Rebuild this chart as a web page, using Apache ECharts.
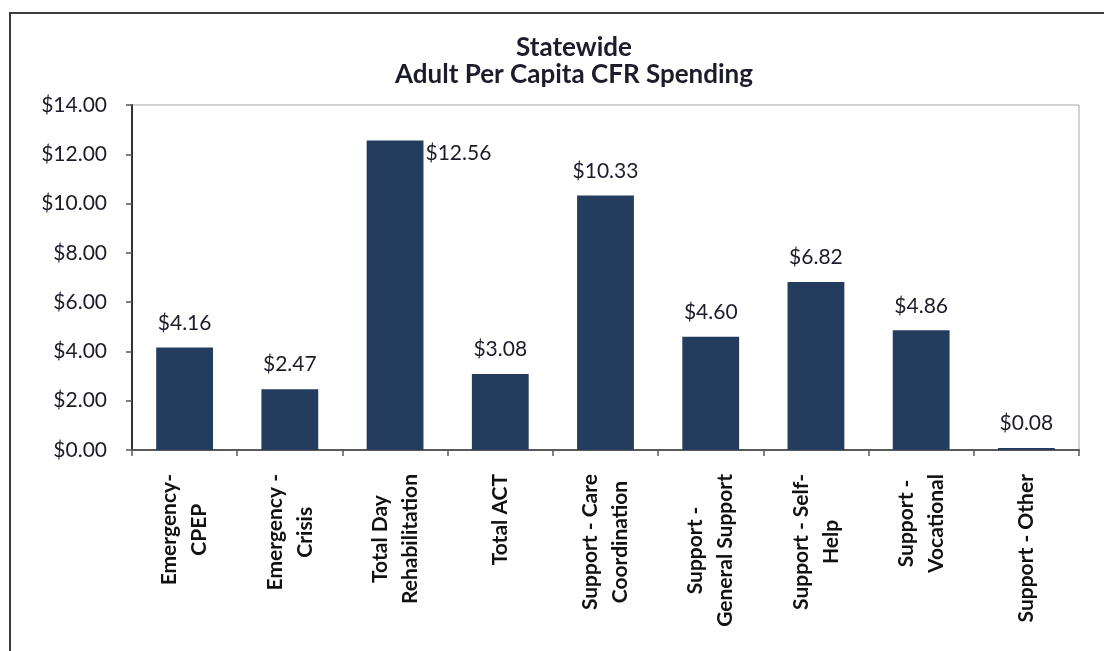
<!DOCTYPE html>
<html>
<head>
<meta charset="utf-8">
<script src="https://cdn.jsdelivr.net/npm/echarts@6/dist/echarts.min.js"></script>
<style>
  html, body { margin: 0; padding: 0; background: #ffffff; }
  #chart { width: 1104px; height: 651px; }
</style>
</head>
<body>
<div id="chart"></div>
<script>
const titleLines = ['Statewide', 'Adult Per Capita CFR Spending'];
const categories = [
  'Emergency-\nCPEP',
  'Emergency -\nCrisis',
  'Total Day\nRehabilitation',
  'Total ACT',
  'Support - Care\nCoordination',
  'Support -\nGeneral Support',
  'Support - Self-\nHelp',
  'Support -\nVocational',
  'Support - Other'
];
const spending = [4.16, 2.47, 12.56, 3.08, 10.33, 4.60, 6.82, 4.86, 0.08];
const yMin = 0, yMax = 14, yStep = 2;

const FONT = 'Lato, "Open Sans", sans-serif';
const TEXT = '#1c1c2a';
const BAR = '#243c5e';

const barData = spending.map((v, i) => {
  const d = { value: v };
  if (i === 2) {
    d.label = { position: ['100%', 0], offset: [2, 2], align: 'left', verticalAlign: 'top' };
  }
  return d;
});

const chart = echarts.init(document.getElementById('chart'), null, { renderer: 'canvas' });
chart.setOption({
  animation: false,
  backgroundColor: '#ffffff',
  title: {
    text: titleLines.join('\n'),
    left: 569,
    top: 29,
    textAlign: 'center',
    textStyle: { fontFamily: FONT, fontWeight: 'bold', fontSize: 26, lineHeight: 27, color: TEXT }
  },
  graphic: [{
    type: 'rect',
    shape: { x: 10, y: 13, width: 1200, height: 800 },
    style: { fill: 'none', stroke: '#3a3a3a', lineWidth: 2 },
    silent: true
  }],
  grid: {
    left: 132, right: 25, top: 105, bottom: 201,
    show: true, borderColor: '#a6a6a6', borderWidth: 1, backgroundColor: 'transparent'
  },
  xAxis: {
    type: 'category',
    data: categories,
    axisLine: { lineStyle: { color: '#5a5a5a', width: 2 } },
    axisTick: { show: true, inside: false, length: 6, lineStyle: { color: '#5a5a5a', width: 1.5 } },
    axisLabel: {
      interval: 0,
      rotate: 90,
      margin: 24,
      formatter: v => v.split('\n').map(l => '{c|' + l + '}').join('\n'),
      rich: {
        c: { align: 'center', fontFamily: FONT, fontWeight: 'bold', fontSize: 21, lineHeight: 30, color: '#111' }
      }
    }
  },
  yAxis: {
    type: 'value',
    min: yMin, max: yMax, interval: yStep,
    axisLine: { show: true, lineStyle: { color: '#333', width: 2 } },
    axisTick: { show: true, inside: false, length: 6, lineStyle: { color: '#555', width: 1.5 } },
    splitLine: { show: false },
    axisLabel: {
      margin: 25,
      formatter: v => '$' + v.toFixed(2),
      fontFamily: FONT, fontSize: 21, color: TEXT
    }
  },
  series: [{
    type: 'bar',
    data: barData,
    barWidth: '54%',
    itemStyle: { color: BAR },
    label: {
      show: true,
      position: 'top',
      distance: 14,
      formatter: p => '$' + p.value.toFixed(2),
      fontFamily: FONT, fontSize: 21, color: TEXT
    }
  }]
});
</script>
</body>
</html>
